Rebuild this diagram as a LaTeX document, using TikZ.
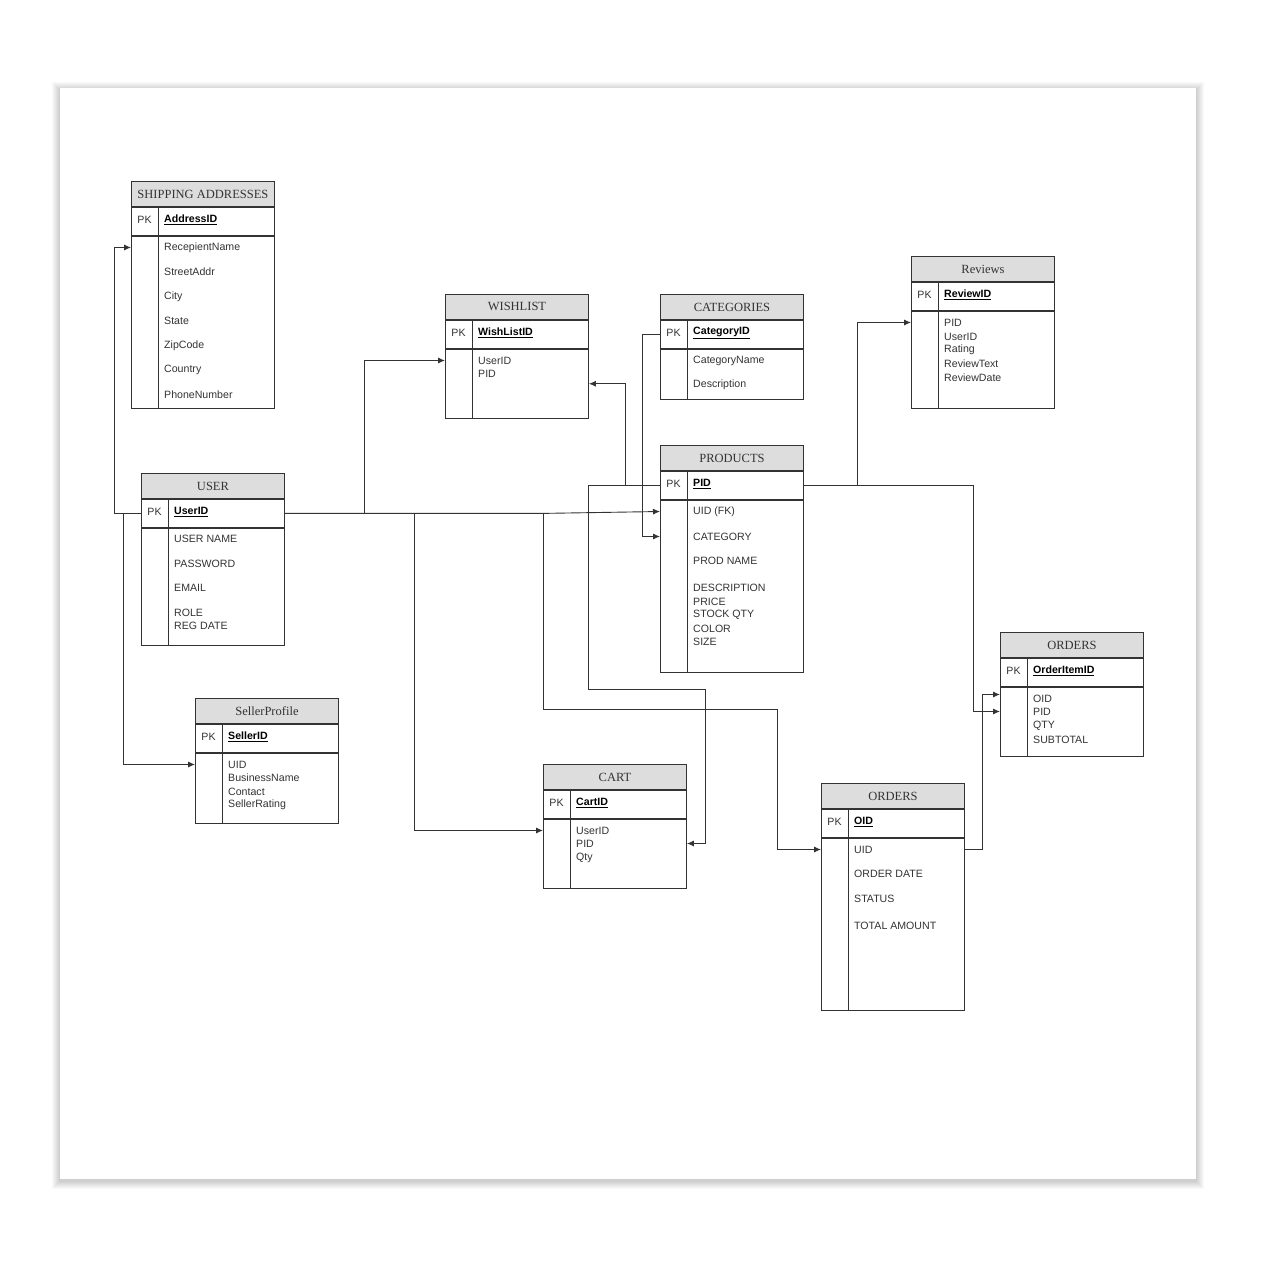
\documentclass[tikz,border=0pt]{standalone}
\usepackage{fontspec}
\setmainfont{Liberation Serif}
\setsansfont{Liberation Sans}
\usetikzlibrary{arrows.meta,calc}

\definecolor{erdgray}{HTML}{DDDDDD}
\definecolor{erdink}{HTML}{333333}

\tikzset{
  erdhead/.style={draw=erdink, line width=0.9pt, fill=erdgray, minimum width=143pt,
    minimum height=25pt, inner sep=0pt, text=erdink, font=\fontsize{12.5}{14}\selectfont},
  erdrow/.style={draw=erdink, line width=0.9pt, minimum width=143pt, minimum height=28pt, inner sep=0pt},
  erdbody/.style={draw=erdink, line width=0.9pt, minimum width=143pt, inner sep=0pt},
  erdline/.style={draw=erdink, line width=0.9pt},
  pktext/.style={inner sep=0pt, yshift=1.5pt, text=erdink, font=\sffamily\fontsize{10.6}{12}\selectfont},
  keytext/.style={anchor=west, inner sep=0pt, yshift=1.5pt, text=black, font=\sffamily\bfseries\fontsize{10.6}{12}\selectfont},
  attrtext/.style={anchor=west, inner sep=0pt, yshift=-1.5pt, text=erdink, font=\sffamily\fontsize{10.6}{12}\selectfont},
  conn/.style={draw=erdink, line width=0.9pt, -{Latex[length=7pt,width=6pt]}}
}

% one table: name, left, top, title, key, body height, y/attribute list
\newcommand{\erdtable}[7]{%
  \node[erdhead, anchor=north west] (#1) at (#2,#3) {#4};
  \node[erdrow, anchor=north west] (#1-pk) at (#1.south west) {};
  \node[erdbody, minimum height=#6pt, anchor=north west] (#1-body) at (#1-pk.south west) {};
  \draw[erdline] ([xshift=27pt]#1-pk.north west) -- ([xshift=27pt]#1-body.south west);
  \node[pktext] (#1-pkl) at ([xshift=13.5pt]#1-pk.west) {PK};
  \node[keytext] (#1-key) at ([xshift=33pt]#1-pk.west) {\underline{#5}};
  \foreach \ay/\atext [count=\i] in {#7}
    \node[attrtext] (#1-\i) at (#2+33,\ay) {\atext};
}

\begin{document}
\begin{tikzpicture}[x=1pt, y=-1pt]
  \useasboundingbox (0,0) rectangle (1280,1280);
  \fill[white] (0,0) rectangle (1280,1280);
  % page with shadow
  \foreach \s in {1,...,8}
    \fill[black, opacity=0.022] (60-\s,88-\s+2) rectangle (1196+\s,1179+\s+2);
  \fill[white] (60,88) rectangle (1196,1179);

  % tables
  \erdtable{ship}{131}{181}{SHIPPING ADDRESSES}{AddressID}{172}
    {246/RecepientName, 270/StreetAddr, 295/City, 319/State, 344/ZipCode, 368/Country, 393/PhoneNumber}
  \erdtable{wish}{445}{294}{WISHLIST}{WishListID}{69}
    {359/UserID, 372/PID}
  \erdtable{cat}{660}{294}{CATEGORIES}{CategoryID}{50}
    {359/CategoryName, 383/Description}
  \erdtable{rev}{911}{256}{Reviews}{ReviewID}{97}
    {321/PID, 335/UserID, 348/Rating, 362/ReviewText, 376/ReviewDate}
  \erdtable{user}{141}{473}{USER}{UserID}{117}
    {537/USER NAME, 562/PASSWORD, 586/EMAIL, 611/ROLE, 624/REG DATE}
  \erdtable{prod}{660}{445}{PRODUCTS}{PID}{172}
    {510/UID (FK), 535/CATEGORY, 559/PROD NAME, 586/DESCRIPTION, 600/PRICE, 613/STOCK QTY, 627/COLOR, 640/SIZE}
  \erdtable{seller}{195}{698}{SellerProfile}{SellerID}{70}
    {763/UID, 776/BusinessName, 790/Contact, 803/SellerRating}
  \erdtable{cart}{543}{764}{CART}{CartID}{69}
    {829/UserID, 842/PID, 856/Qty}
  \erdtable{ord}{821}{783}{ORDERS}{OID}{172}
    {848/UID, 872/ORDER DATE, 897/STATUS, 924/TOTAL AMOUNT}
  \erdtable{item}{1000}{632}{ORDERS}{OrderItemID}{69}
    {697/OID, 710/PID, 724/QTY, 738/SUBTOTAL}

  % connectors from USER
  \draw[conn] (user-pk.west) -- ++(-27,0) |- (ship-body.west |- ship-1);
  \draw[conn] (user-pk.west) -- ++(-18,0) |- (seller-body.west |- seller-1);
  \draw[conn] (user-pk.east) -- ++(80,0) |- (wish-body.west |- wish-1);
  \draw[conn] (user-pk.east) -- ++(130,0) |- (cart-body.west |- cart-1);
  \draw[conn] (user-pk.east) -- ++(261,0) -- (prod-body.west |- prod-1);
  \draw[conn] (user-pk.east) -- ++(259,0) -- ++(0,196) -- ++(234,0) |- (ord-body.west |- ord-1);
  % connectors from PRODUCTS and CATEGORIES
  \draw[conn] (prod-pk.west) -- ++(-35,0) |- (wish-body.east);
  \draw[conn] (prod-pk.west) -- ++(-72,0) -- ++(0,204) -- ++(117,0) |- (cart-body.east |- cart-2);
  \draw[conn] (cat-pk.west) -- ++(-18,0) |- (prod-body.west |- prod-2);
  \draw[conn] (prod-pk.east) -- ++(54,0) |- (rev-body.west |- rev-1);
  \draw[conn] (prod-pk.east) -- ++(170,0) |- (item-body.west |- item-2);
  % ORDERS to order items
  \draw[conn] (ord-body.east |- ord-1) -- ++(18,0) |- ($(item-body.west |- item-1)+(0,-4)$);
\end{tikzpicture}
\end{document}
